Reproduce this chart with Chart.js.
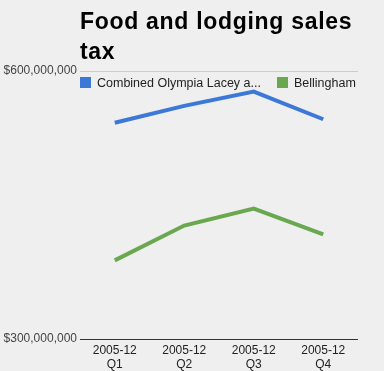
<!DOCTYPE html>
<html>
<head>
<meta charset="utf-8">
<script src="https://cdn.jsdelivr.net/npm/chart.js@4"></script>
<style>
  html, body { margin: 0; padding: 0; background: #efefef; }
  #wrap { position: relative; width: 384px; height: 371px; overflow: hidden; }
  #title {
    position: absolute; left: 80px; top: 6px; width: 285px;
    font: bold 23px "Liberation Sans", Arial, sans-serif; line-height: 30px; color: #000;
    letter-spacing: 0.7px;
  }
  #legend {
    position: absolute; left: 80px; top: 76px; width: 280px;
    font: 12.5px "Liberation Sans", Arial, sans-serif; color: #222;
  }
  .item { position: absolute; top: 0; white-space: nowrap; }
  .box { display: inline-block; width: 11px; height: 11px; vertical-align: -1px; margin-right: 6px; }
</style>
</head>
<body>
<div id="wrap">
  <canvas id="c" width="384" height="371"></canvas>
  <div id="title">Food and lodging sales tax</div>
  <div id="legend"></div>
</div>
<script>
const quarters = [['2005-12', 'Q1'], ['2005-12', 'Q2'], ['2005-12', 'Q3'], ['2005-12', 'Q4']];
const seriesNames = ['Combined Olympia Lacey a...', 'Bellingham'];
const olympia = [542000000, 561000000, 577000000, 546000000];
const bellingham = [388000000, 427000000, 446000000, 417000000];
const yTicks = [300000000, 600000000];
const colors = ['#3c78d8', '#6aa84f'];

const legend = document.getElementById('legend');
const legendX = [0, 197];
seriesNames.forEach((name, i) => {
  const el = document.createElement('div');
  el.className = 'item';
  el.style.left = legendX[i] + 'px';
  el.innerHTML = '<span class="box" style="background:' + colors[i] + '"></span>' + name;
  legend.appendChild(el);
});

new Chart(document.getElementById('c'), {
  type: 'line',
  data: {
    labels: quarters,
    datasets: [
      { label: seriesNames[0], data: olympia, borderColor: colors[0], backgroundColor: colors[0], borderWidth: 4, pointRadius: 0, tension: 0 },
      { label: seriesNames[1], data: bellingham, borderColor: colors[1], backgroundColor: colors[1], borderWidth: 4, pointRadius: 0, tension: 0 }
    ]
  },
  options: {
    responsive: false,
    animation: false,
    layout: { padding: { top: 71, right: 26, left: 0, bottom: 0 } },
    plugins: {
      legend: { display: false },
      tooltip: { enabled: false }
    },
    scales: {
      x: {
        offset: true,
        grid: { display: false, drawTicks: false },
        border: { display: false },
        ticks: {
          color: '#222',
          font: { family: '"Liberation Sans", Arial, sans-serif', size: 12, lineHeight: 1.15 },
          maxRotation: 0,
          padding: 5
        },
        afterFit: function(scale) { scale.height = 32; }
      },
      y: {
        min: yTicks[0],
        max: yTicks[1],
        afterBuildTicks: function(scale) {
          scale.ticks = yTicks.map(v => ({ value: v }));
        },
        afterFit: function(scale) { scale.width = 80; },
        border: { display: false },
        grid: {
          drawTicks: false,
          color: function(ctx) {
            return ctx.tick && ctx.tick.value === yTicks[0] ? '#333' : '#ccc';
          }
        },
        ticks: {
          color: '#444',
          padding: 3,
          font: { family: '"Liberation Sans", Arial, sans-serif', size: 12 },
          callback: function(value) {
            return '$' + value.toLocaleString('en-US');
          }
        }
      }
    }
  }
});
</script>
</body>
</html>
